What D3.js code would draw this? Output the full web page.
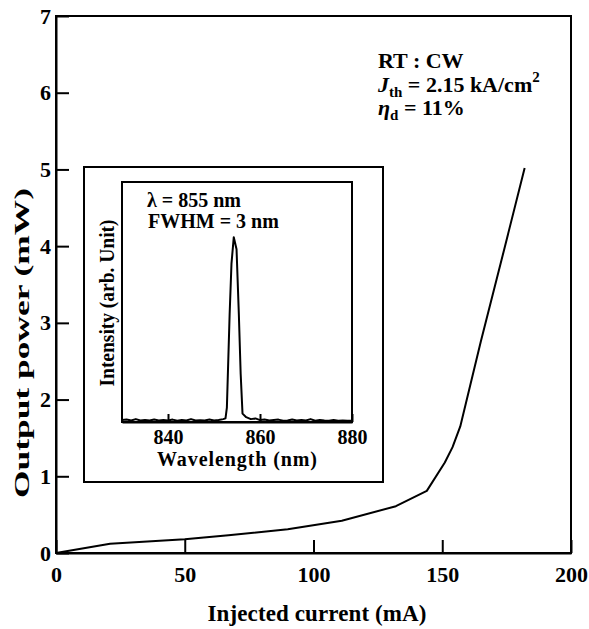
<!DOCTYPE html>
<html>
<head>
<meta charset="utf-8">
<script src="https://cdn.jsdelivr.net/npm/d3@7"></script>
<style>
body{margin:0;background:#fff;}
svg text{font-family:"Liberation Serif","Times New Roman",serif;font-weight:bold;fill:#000;}
</style>
</head>
<body>
<script>
//L-I curve (mA, mW)
const current = [0,21,50,67,90,111,132,144,151,154,157,165,174,182];
const power = [0,0.12,0.18,0.23,0.31,0.42,0.61,0.81,1.18,1.38,1.65,2.76,3.95,5.02];
const xTicks = [0,50,100,150,200];
const yTicks = [0,1,2,3,4,5,6,7];

//lasing spectrum in the inset
const wavelength = [830,831,832,833,834,835,836,837,838,839,840,841,842,843,844,845,846,847,848,849,850,851,852,
    852.5,852.8,853.4,853.8,854.3,854.9,855.4,855.8,856.2,
    857,858,859,860,861,862,863,864,865,866,867,868,869,870,871,872,873,874,875,876,877,878,879,880];
const intensity = [0.008,0.01,0.006,0.012,0.006,0.008,0.006,0.01,0.006,0.008,0.006,0.01,0.005,0.008,0.006,0.012,0.006,0.007,0.006,0.01,0.006,0.008,0.012,
    0.015,0.06,0.45,0.66,0.77,0.72,0.45,0.2,0.035,
    0.02,0.012,0.015,0.008,0.01,0.006,0.008,0.01,0.005,0.006,0.01,0.006,0.008,0.006,0.012,0.005,0.008,0.006,0.005,0.008,0.005,0.006,0.005,0.005];
const wlTicks = [840,860,880];

const w = 589;
const h = 629;

const svg = d3.select("body")
    .append("svg")
    .attr("width",w)
    .attr("height",h);

//main scales
const xScale = d3.scaleLinear().domain([0,200]).range([56,571]);
const yScale = d3.scaleLinear().domain([0,7]).range([553,16]);

//ticks point inside the frame
const xAxis = d3.axisBottom(xScale).tickValues(xTicks).tickSize(-13).tickSizeOuter(0).tickPadding(13)
    .tickFormat(d3.format("d"));
const yAxis = d3.axisLeft(yScale).tickValues(yTicks).tickSize(-13).tickSizeOuter(0).tickPadding(5)
    .tickFormat(d3.format("d"));

const gx = svg.append("g")
    .attr("transform","translate(0,553)")
    .call(xAxis);
const gy = svg.append("g")
    .attr("transform","translate(56,0)")
    .call(yAxis);

[gx,gy].forEach(g=>{
    g.selectAll("path,line").attr("stroke","#000").attr("stroke-width",2);
    g.selectAll("text").style("font-size","22px");
});

//frame round the plot
svg.append("rect")
    .attr("x",56).attr("y",16)
    .attr("width",515).attr("height",537)
    .attr("fill","none")
    .attr("stroke","#000")
    .attr("stroke-width",2);

//the curve
const line = d3.line()
    .x((d,i)=>xScale(current[i]))
    .y((d,i)=>yScale(power[i]));

svg.append("path")
    .attr("d",line(current))
    .attr("fill","none")
    .attr("stroke","#000")
    .attr("stroke-width",2)
    .attr("stroke-linejoin","round");

//axis titles
svg.append("text")
    .attr("x",317).attr("y",621)
    .attr("text-anchor","middle")
    .attr("textLength",219)
    .style("font-size","23px")
    .text("Injected current (mA)");

svg.append("text")
    .attr("transform","translate(29,343) rotate(-90)")
    .attr("text-anchor","middle")
    .attr("textLength",310)
    .attr("lengthAdjust","spacingAndGlyphs")
    .style("font-size","21px")
    .text("Output power (mW)");

//annotation top right
svg.append("text")
    .attr("x",378).attr("y",68)
    .style("font-size","22px")
    .text("RT : CW");

const jth = svg.append("text")
    .attr("x",378).attr("y",92)
    .style("font-size","22px");
jth.append("tspan").style("font-style","italic").text("J");
jth.append("tspan").attr("dy",5).style("font-size","15px").text("th");
jth.append("tspan").attr("dy",-5).text(" = 2.15 kA/cm");
jth.append("tspan").attr("dy",-10).style("font-size","15px").text("2");

const eta = svg.append("text")
    .attr("x",378).attr("y",115)
    .style("font-size","22px");
eta.append("tspan").style("font-style","italic").text("η");
eta.append("tspan").attr("dy",5).style("font-size","15px").text("d");
eta.append("tspan").attr("dy",-5).text(" = 11%");

//inset
const inset = svg.append("g");

inset.append("rect")
    .attr("x",84).attr("y",167)
    .attr("width",299).attr("height",315)
    .attr("fill","#fff")
    .attr("stroke","#000")
    .attr("stroke-width",2);

const ix = d3.scaleLinear().domain([830,880]).range([122,352]);
const iy = d3.scaleLinear().domain([0,1]).range([422,182]);

const ixAxis = d3.axisBottom(ix).tickValues(wlTicks).tickSize(-8).tickSizeOuter(0).tickPadding(8);
const gix = inset.append("g")
    .attr("transform","translate(0,422)")
    .call(ixAxis);
gix.selectAll("path,line").attr("stroke","#000").attr("stroke-width",2);
gix.selectAll("text").style("font-size","20px");

inset.append("rect")
    .attr("x",122).attr("y",182)
    .attr("width",230).attr("height",240)
    .attr("fill","none")
    .attr("stroke","#000")
    .attr("stroke-width",2);

const specLine = d3.line()
    .x((d,i)=>ix(wavelength[i]))
    .y((d,i)=>iy(intensity[i]));

inset.append("path")
    .attr("d",specLine(wavelength))
    .attr("fill","none")
    .attr("stroke","#000")
    .attr("stroke-width",2)
    .attr("stroke-linejoin","round");

inset.append("text")
    .attr("x",237).attr("y",466)
    .attr("text-anchor","middle")
    .attr("textLength",160)
    .style("font-size","20px")
    .text("Wavelength (nm)");

inset.append("text")
    .attr("transform","translate(114,303) rotate(-90)")
    .attr("text-anchor","middle")
    .attr("textLength",167)
    .attr("lengthAdjust","spacingAndGlyphs")
    .style("font-size","20px")
    .text("Intensity (arb. Unit)");

inset.append("text")
    .attr("x",147).attr("y",207)
    .style("font-size","20px")
    .text("λ = 855 nm");

inset.append("text")
    .attr("x",148).attr("y",228)
    .style("font-size","20px")
    .text("FWHM = 3 nm");
</script>
</body>
</html>
